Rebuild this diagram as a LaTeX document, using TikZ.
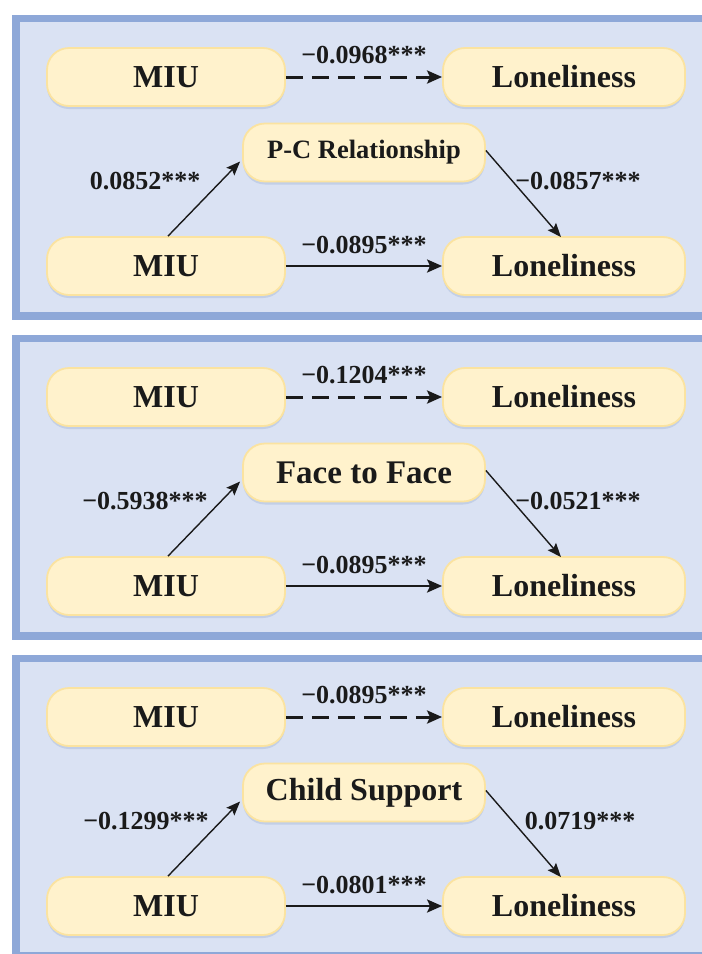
\documentclass[tikz,border=0pt]{standalone}
\usepackage{fontspec}
\setmainfont{Liberation Serif}
\usetikzlibrary{arrows.meta,shadows,calc}
\definecolor{panelfill}{HTML}{DAE2F3}
\definecolor{panelline}{HTML}{8EA8D8}
\definecolor{boxfill}{HTML}{FFF2CC}
\definecolor{boxline}{HTML}{FBE3A0}
\definecolor{shadowc}{HTML}{B9C7E3}
\definecolor{ink}{HTML}{1A1A1A}
\tikzset{
  x=1pt, y=-1pt,
  panel/.style={fill=panelfill, draw=panelline, line width=7.5pt},
  varbox/.style={rounded corners=22pt, fill=boxfill, draw=boxline, line width=1.8pt,
    minimum width=238pt, minimum height=58pt, inner sep=0pt,
    font=\fontsize{32}{32}\selectfont\bfseries, text=ink,
    drop shadow={shadow xshift=0pt, shadow yshift=-3pt, fill=shadowc, opacity=0.7}},
  medbox/.style={varbox, minimum width=242pt},
  smallfont/.style={font=\fontsize{26.5}{26.5}\selectfont\bfseries},
  coef/.style={font=\fontsize{26}{26}\selectfont\bfseries, text=ink, inner sep=0pt},
  tip/.style={-{Stealth[length=15pt,width=13pt,inset=3pt]}},
  dasharrow/.style={tip, draw=ink, line width=3pt, dash pattern=on 17pt off 9pt},
  solidarrow/.style={tip, draw=ink, line width=2.6pt},
  diagarrow/.style={-{Stealth[length=14pt,width=11pt,inset=2.5pt]}, draw=ink, line width=1.4pt},
}
\begin{document}
\begin{tikzpicture}
\useasboundingbox (0,0) rectangle (702,954);
\fill[white] (0,0) rectangle (702,954);
\begin{scope}
\clip (0,0) rectangle (702,954);
% ---------- panel 1 ----------
\draw[panel] (16,18.5) rectangle (720,316);
\node[varbox] (a1) at (166,77) {MIU};
\node[varbox, minimum width=242pt] (b1) at (564,77) {Loneliness};
\node[medbox, smallfont] (m1) at (364,152.5) {P-C Relationship};
\node[varbox] (c1) at (166,266) {MIU};
\node[varbox, minimum width=242pt] (d1) at (564,266) {Loneliness};
\draw[dasharrow] (a1.east) -- (b1.west);
\draw[solidarrow] (c1.east) -- (d1.west);
\draw[diagarrow] ($(c1.north)+(2,0)$) -- ($(m1.west)+(-2,9)$);
\draw[diagarrow] ($(m1.east)+(0,-2)$) -- ($(d1.north)+(-3,1)$);
\node[coef] (l1a) at (364,55) {−0.0968***};
\node[coef] (l1b) at (364,245) {−0.0895***};
\node[coef] (l1c) at (145,181) {0.0852***};
\node[coef] (l1d) at (578,181) {−0.0857***};
% ---------- panel 2 ----------
\draw[panel] (16,338.5) rectangle (720,636);
\node[varbox] (a2) at (166,397) {MIU};
\node[varbox, minimum width=242pt] (b2) at (564,397) {Loneliness};
\node[medbox, font=\fontsize{33}{33}\selectfont\bfseries] (m2) at (364,472.5) {Face to Face};
\node[varbox] (c2) at (166,586) {MIU};
\node[varbox, minimum width=242pt] (d2) at (564,586) {Loneliness};
\draw[dasharrow] (a2.east) -- (b2.west);
\draw[solidarrow] (c2.east) -- (d2.west);
\draw[diagarrow] ($(c2.north)+(2,0)$) -- ($(m2.west)+(-2,9)$);
\draw[diagarrow] ($(m2.east)+(0,-2)$) -- ($(d2.north)+(-3,1)$);
\node[coef] (l2a) at (364,375) {−0.1204***};
\node[coef] (l2b) at (364,565) {−0.0895***};
\node[coef] (l2c) at (145,501) {−0.5938***};
\node[coef] (l2d) at (578,501) {−0.0521***};
% ---------- panel 3 ----------
\draw[panel] (16,658.5) rectangle (720,956);
\node[varbox] (a3) at (166,717) {MIU};
\node[varbox, minimum width=242pt] (b3) at (564,717) {Loneliness};
\node[medbox] (m3) at (364,792.5) {Child Support};
\node[varbox] (c3) at (166,906) {MIU};
\node[varbox, minimum width=242pt] (d3) at (564,906) {Loneliness};
\draw[dasharrow] (a3.east) -- (b3.west);
\draw[solidarrow] (c3.east) -- (d3.west);
\draw[diagarrow] ($(c3.north)+(2,0)$) -- ($(m3.west)+(-2,9)$);
\draw[diagarrow] ($(m3.east)+(0,-2)$) -- ($(d3.north)+(-3,1)$);
\node[coef] (l3a) at (364,695) {−0.0895***};
\node[coef] (l3b) at (364,885) {−0.0801***};
\node[coef] (l3c) at (146,821) {−0.1299***};
\node[coef] (l3d) at (580,821) {0.0719***};
\end{scope}
\end{tikzpicture}
\end{document}
